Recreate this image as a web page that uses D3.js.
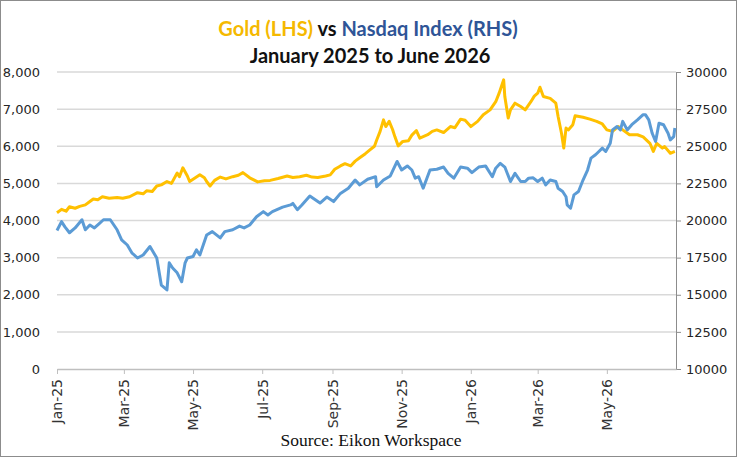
<!DOCTYPE html>
<meta charset="utf-8">
<head>
<style>
  body { margin: 0; background: #fff; }
  .axis-label { font-family: "DejaVu Sans", sans-serif; font-size: 13px; fill: #262626; }
  .x-label { font-family: "DejaVu Sans", sans-serif; font-size: 14px; fill: #333; }
  .title { font-family: Lato, sans-serif; font-weight: 700; font-size: 20px; }
  .source { font-family: "Liberation Serif", serif; font-size: 17.5px; fill: #111; }
</style>
<script src="https://d3js.org/d3.v7.min.js"></script>
</head>
<body>
<svg width="737" height="457"></svg>
<script>
// Gold (LHS)
var goldDates = ["2025-01-01","2025-01-05","2025-01-09","2025-01-12","2025-01-17","2025-01-21","2025-01-26","2025-01-30",
  "2025-02-02","2025-02-06","2025-02-10","2025-02-16","2025-02-23","2025-02-28","2025-03-06","2025-03-13","2025-03-18",
  "2025-03-21","2025-03-26","2025-03-30","2025-04-03","2025-04-08","2025-04-12","2025-04-17","2025-04-19","2025-04-22",
  "2025-04-26","2025-04-28","2025-05-03","2025-05-07","2025-05-11","2025-05-13","2025-05-16","2025-05-20","2025-05-25",
  "2025-05-30","2025-06-05","2025-06-10","2025-06-14","2025-06-20","2025-06-27","2025-07-03","2025-07-08","2025-07-15",
  "2025-07-23","2025-07-28","2025-08-03","2025-08-09","2025-08-14","2025-08-19","2025-08-26","2025-08-30","2025-09-03",
  "2025-09-08","2025-09-12","2025-09-17","2025-09-21","2025-09-25","2025-09-30","2025-10-04","2025-10-08","2025-10-10",
  "2025-10-13","2025-10-16","2025-10-18","2025-10-21","2025-10-24","2025-10-26","2025-10-29","2025-11-02","2025-11-07",
  "2025-11-10","2025-11-14","2025-11-17","2025-11-24","2025-11-28","2025-12-02","2025-12-08","2025-12-14","2025-12-18",
  "2025-12-23","2025-12-27","2026-01-01","2026-01-07","2026-01-12","2026-01-18","2026-01-23","2026-01-26","2026-01-30",
  "2026-01-31","2026-02-03","2026-02-05","2026-02-09","2026-02-14","2026-02-18","2026-02-23","2026-02-26","2026-03-01",
  "2026-03-03","2026-03-06","2026-03-12","2026-03-17","2026-03-19","2026-03-22","2026-03-24","2026-03-26","2026-03-28",
  "2026-04-01","2026-04-03","2026-04-10","2026-04-16","2026-04-22","2026-04-27","2026-05-01","2026-05-06","2026-05-11",
  "2026-05-15","2026-05-21","2026-05-28","2026-06-02","2026-06-08","2026-06-11","2026-06-14","2026-06-19","2026-06-21",
  "2026-06-26","2026-06-30"];
var goldValues = [4210,4300,4250,4370,4330,4380,4420,4510,
  4580,4560,4640,4600,4620,4600,4640,4750,4720,
  4800,4780,4930,4960,5050,5000,5280,5180,5420,
  5200,5050,5150,5230,5150,5050,4930,5080,5170,
  5120,5180,5220,5290,5150,5040,5070,5080,5130,
  5200,5160,5180,5220,5170,5160,5200,5230,5380,
  5470,5530,5470,5600,5690,5800,5900,6000,6170,
  6400,6710,6530,6670,6450,6260,6010,6130,6150,
  6300,6420,6220,6310,6400,6440,6370,6530,6500,
  6730,6700,6530,6670,6850,6980,7200,7430,7790,
  7340,6760,6980,7160,7070,6980,7200,7350,7430,
  7590,7340,7290,7160,6800,6350,5950,6490,6440,
  6580,6820,6780,6730,6670,6600,6440,6400,6530,
  6440,6310,6310,6250,6080,5860,6080,5950,5990,
  5810,5860];

// Nasdaq Index (RHS)
var nasdaqDates = ["2025-01-01","2025-01-05","2025-01-08","2025-01-12","2025-01-17","2025-01-23","2025-01-26","2025-01-30",
  "2025-02-03","2025-02-07","2025-02-11","2025-02-17","2025-02-23","2025-02-27","2025-03-04","2025-03-08","2025-03-13",
  "2025-03-18","2025-03-24","2025-03-30","2025-04-03","2025-04-08","2025-04-10","2025-04-13","2025-04-17","2025-04-21",
  "2025-04-24","2025-04-26","2025-05-01","2025-05-04","2025-05-07","2025-05-13","2025-05-18","2025-05-25","2025-05-29",
  "2025-06-05","2025-06-11","2025-06-15","2025-06-20","2025-06-26","2025-07-02","2025-07-06","2025-07-10","2025-07-19",
  "2025-07-26","2025-07-28","2025-08-01","2025-08-05","2025-08-12","2025-08-21","2025-08-27","2025-09-02","2025-09-08",
  "2025-09-15","2025-09-21","2025-09-25","2025-10-02","2025-10-09","2025-10-10","2025-10-16","2025-10-22","2025-10-28",
  "2025-11-01","2025-11-06","2025-11-10","2025-11-13","2025-11-16","2025-11-20","2025-11-26","2025-12-02","2025-12-08",
  "2025-12-12","2025-12-17","2025-12-23","2025-12-29","2026-01-02","2026-01-08","2026-01-14","2026-01-20","2026-01-23",
  "2026-01-27","2026-01-31","2026-02-05","2026-02-09","2026-02-14","2026-02-18","2026-02-21","2026-02-25","2026-03-01",
  "2026-03-05","2026-03-08","2026-03-12","2026-03-17","2026-03-19","2026-03-23","2026-03-26","2026-03-27","2026-03-30",
  "2026-04-02","2026-04-06","2026-04-10","2026-04-14","2026-04-17","2026-04-21","2026-04-24","2026-04-27","2026-04-30",
  "2026-05-04","2026-05-06","2026-05-10","2026-05-13","2026-05-15","2026-05-19","2026-05-23","2026-05-28","2026-06-02",
  "2026-06-04","2026-06-07","2026-06-10","2026-06-13","2026-06-16","2026-06-20","2026-06-24","2026-06-26","2026-06-29",
  "2026-06-30"];
var nasdaqValues = [19325,19925,19575,19175,19500,20050,19375,19700,
  19500,19775,20050,20050,19375,18700,18350,17825,17475,
  17675,18250,17475,15650,15325,17150,16800,16475,15875,
  17150,17475,17575,18025,17675,19025,19250,18825,19250,
  19375,19625,19500,19700,20250,20600,20375,20600,20900,
  21050,21150,20725,21050,21650,21175,21575,21275,21825,
  22175,22725,22400,22775,22950,22275,22725,23000,23975,
  23400,23675,23400,22850,22950,22175,23400,23450,23600,
  23175,22850,23600,23525,23225,23600,23675,22950,23525,
  23850,23600,22625,23175,22625,22625,22850,22875,22625,
  22850,22400,22725,22625,22175,21950,21600,21050,20825,
  21725,21950,22725,23400,24200,24425,24650,24875,24650,
  25200,26100,26325,26100,26675,26100,26450,26775,27125,
  27125,26775,25875,25325,26550,26450,25875,25425,25650,
  26225];

var leftTicks = [0, 1000, 2000, 3000, 4000, 5000, 6000, 7000, 8000];
var rightTicks = [10000, 12500, 15000, 17500, 20000, 22500, 25000, 27500, 30000];
var xTickDates = ["2025-01-01","2025-03-01","2025-05-01","2025-07-01","2025-09-01","2025-11-01","2026-01-01","2026-03-01","2026-05-01"];

var svg = d3.select("svg"),
    width = +svg.attr("width"),
    height = +svg.attr("height");
var margin = {top: 72, right: 61, bottom: 88, left: 57};
var parse = d3.timeParse("%Y-%m-%d");

// outer frame
svg.append("rect")
    .attr("x", 0.5).attr("y", 0.5)
    .attr("width", width - 1).attr("height", height - 1)
    .attr("fill", "#fff").attr("stroke", "#8c8c8c");

var x = d3.scaleTime()
    .domain([parse("2025-01-01"), parse("2026-07-01")])
    .range([margin.left, width - margin.right]);
var yL = d3.scaleLinear().domain([0, 8000]).range([height - margin.bottom, margin.top]);
var yR = d3.scaleLinear().domain([10000, 30000]).range([height - margin.bottom, margin.top]);

// gridlines
svg.append("g")
    .selectAll("line")
    .data(leftTicks.slice(1))
    .enter().append("line")
      .attr("x1", margin.left).attr("x2", width - margin.right)
      .attr("y1", function(d) { return yL(d); })
      .attr("y2", function(d) { return yL(d); })
      .attr("stroke", "#d9d9d9")
      .attr("stroke-width", 1.5);

// left axis (labels only)
var gl = svg.append("g")
    .attr("transform", "translate(" + margin.left + ",0)")
    .call(d3.axisLeft(yL).tickValues(leftTicks).tickFormat(d3.format(",")).tickSize(0).tickPadding(17));
gl.select(".domain").remove();
gl.selectAll("text").attr("class", "axis-label").attr("font-family", null).attr("font-size", null);

// right axis
var gr = svg.append("g")
    .attr("transform", "translate(" + (width - margin.right) + ",0)")
    .call(d3.axisRight(yR).tickValues(rightTicks).tickFormat(d3.format("d")).tickSize(5).tickSizeOuter(0).tickPadding(5));
gr.select(".domain").attr("stroke", "#8c8c8c");
gr.selectAll(".tick line").attr("stroke", "#8c8c8c");
gr.selectAll("text").attr("class", "axis-label").attr("font-family", null).attr("font-size", null);

// bottom axis
var gb = svg.append("g")
    .attr("transform", "translate(0," + (height - margin.bottom) + ")")
    .call(d3.axisBottom(x).tickValues(xTickDates.map(parse)).tickFormat(d3.timeFormat("%b-%y")).tickSize(5).tickSizeOuter(0));
gb.select(".domain").attr("stroke", "#bfbfbf").attr("stroke-width", 1.5);
gb.selectAll(".tick line").attr("stroke", "#bfbfbf");
gb.selectAll("text")
    .attr("class", "x-label")
    .attr("font-family", null).attr("font-size", null)
    .attr("transform", "rotate(-90)")
    .attr("text-anchor", "end")
    .attr("x", -10).attr("y", 0).attr("dy", "0.35em");

// lines
var goldData = goldDates.map(function(d, i) { return {date: parse(d), value: goldValues[i]}; });
var nasdaqData = nasdaqDates.map(function(d, i) { return {date: parse(d), value: nasdaqValues[i]}; });

svg.append("path")
    .datum(goldData)
    .attr("fill", "none")
    .attr("stroke", "#FFC000")
    .attr("stroke-width", 3)
    .attr("stroke-linejoin", "round")
    .attr("d", d3.line().x(function(d) { return x(d.date); }).y(function(d) { return yL(d.value); }));

svg.append("path")
    .datum(nasdaqData)
    .attr("fill", "none")
    .attr("stroke", "#5B9BD5")
    .attr("stroke-width", 3)
    .attr("stroke-linejoin", "round")
    .attr("d", d3.line().x(function(d) { return x(d.date); }).y(function(d) { return yR(d.value); }));

// titles
var t1 = svg.append("text")
    .attr("class", "title")
    .attr("x", 368).attr("y", 36)
    .attr("text-anchor", "middle");
t1.append("tspan").attr("fill", "#F5B900").text("Gold (LHS)");
t1.append("tspan").attr("fill", "#111").text(" vs ");
t1.append("tspan").attr("fill", "#2F5597").text("Nasdaq Index (RHS)");

svg.append("text")
    .attr("class", "title")
    .attr("x", 370).attr("y", 63)
    .attr("text-anchor", "middle")
    .attr("fill", "#111")
    .text("January 2025 to June 2026");

svg.append("text")
    .attr("class", "source")
    .attr("x", 371).attr("y", 446)
    .attr("text-anchor", "middle")
    .text("Source: Eikon Workspace");
</script>
</body>
